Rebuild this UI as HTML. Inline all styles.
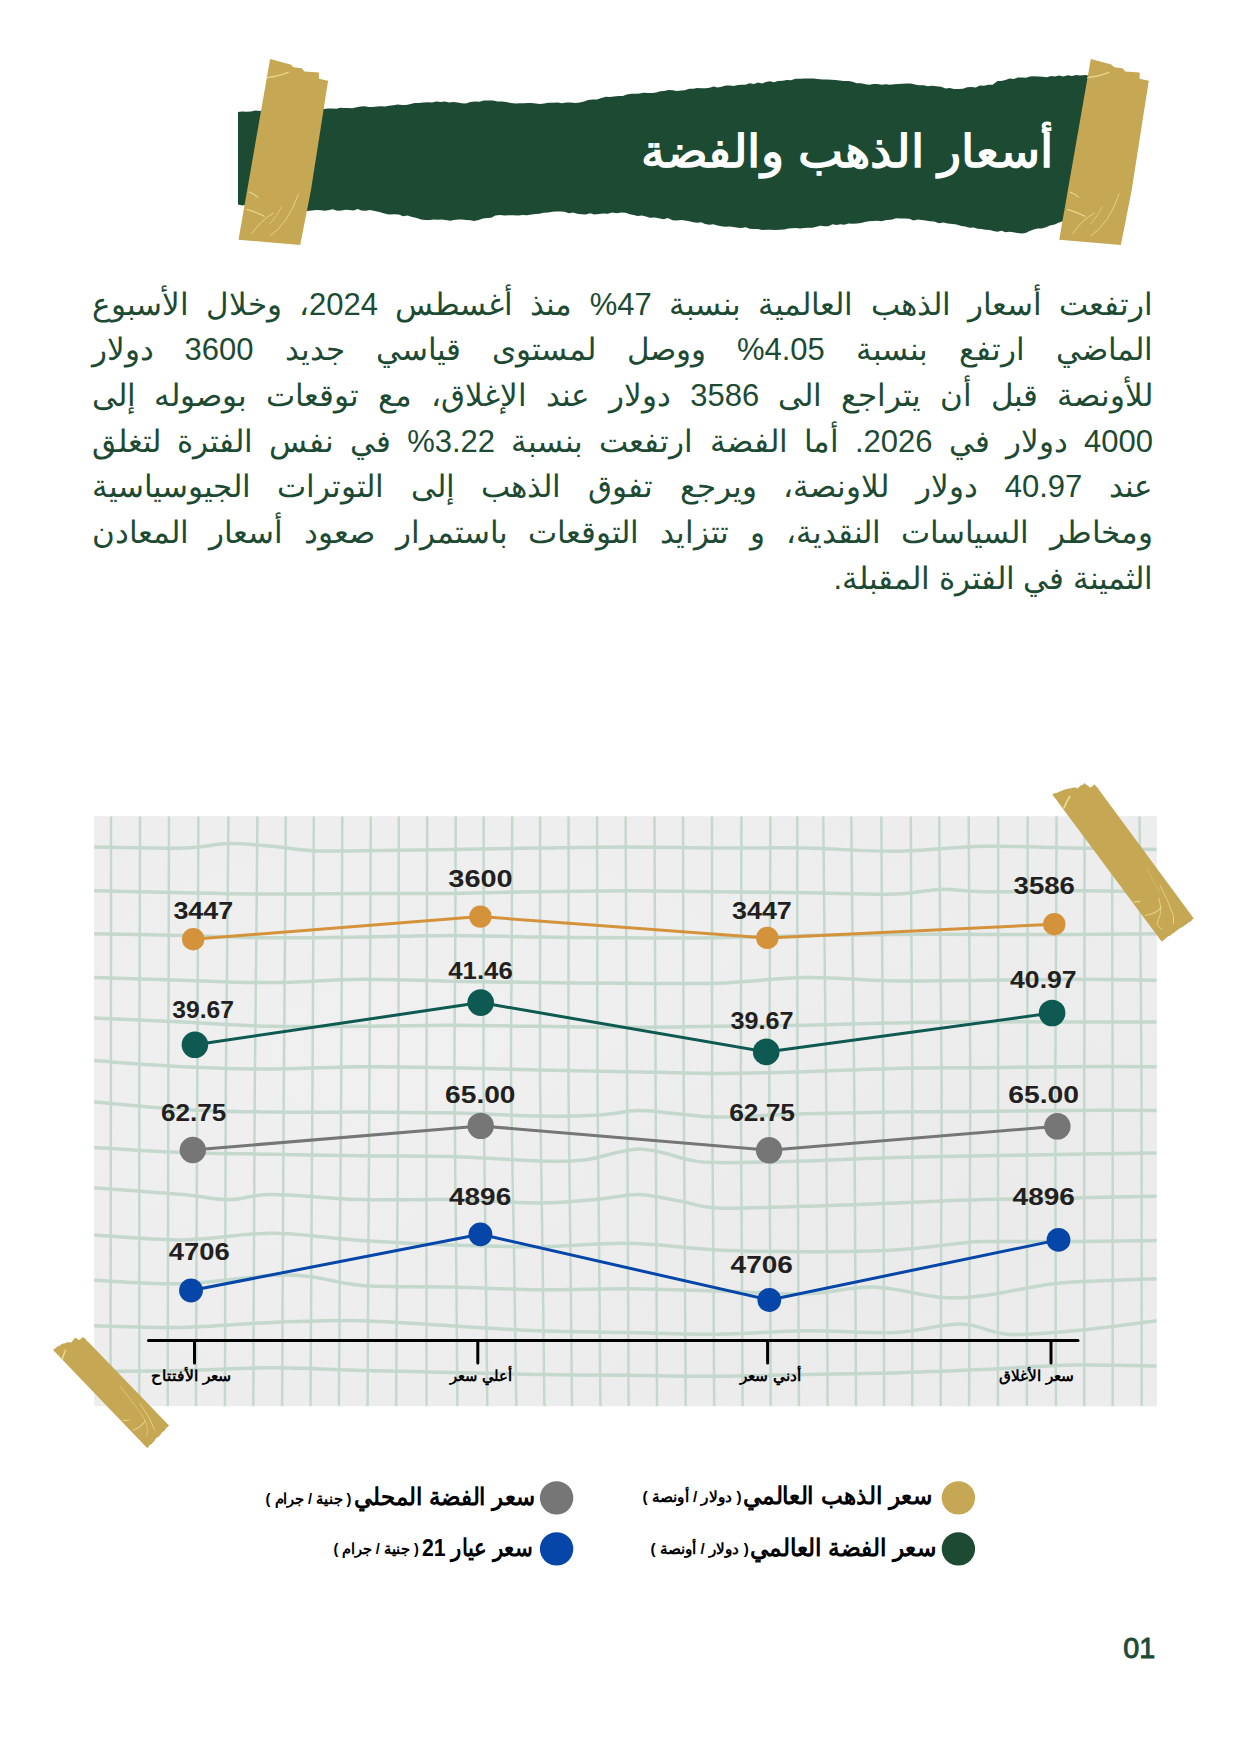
<!DOCTYPE html>
<html lang="ar">
<head>
<meta charset="utf-8">
<title>أسعار الذهب والفضة</title>
<style>
html,body{margin:0;padding:0;background:#fff;}
body{width:1241px;height:1754px;position:relative;overflow:hidden;font-family:"Liberation Sans",sans-serif;color:#1d4a33;}
svg{position:absolute;left:0;top:0;overflow:visible;}
h1{margin:0;font-size:inherit;font-weight:inherit;}
.para{position:absolute;left:91.5px;top:281.6px;width:1061.5px;direction:rtl;margin:0;font-size:31px;line-height:45.7px;color:#1d4a33;}
.para span{display:block;height:45.7px;white-space:nowrap;text-align:justify;text-align-last:justify;}
.para span.last{text-align:right;text-align-last:right;}
</style>
</head>
<body>
<svg width="1241" height="270" viewBox="0 0 1241 270" aria-hidden="true"><path d="M238.0 112.0 L242.2 111.5 L246.5 111.8 L251.1 111.5 L255.6 110.5 L260.0 111.0 L264.0 110.1 L267.7 110.0 L272.2 110.5 L275.8 109.9 L280.3 110.5 L283.9 110.3 L287.7 110.8 L291.9 110.5 L295.8 109.2 L300.2 109.4 L304.1 109.0 L307.9 109.6 L311.7 109.4 L315.8 108.5 L320.0 109.3 L324.0 108.9 L328.1 108.4 L332.0 108.4 L336.3 108.8 L340.3 107.7 L344.6 107.9 L348.2 108.1 L352.2 108.3 L356.7 107.2 L360.6 106.5 L364.7 106.2 L368.7 107.1 L372.6 107.1 L376.9 106.6 L380.8 106.2 L385.2 106.4 L389.0 105.7 L393.4 105.3 L397.7 104.4 L402.2 105.0 L406.0 105.0 L410.6 103.9 L414.7 103.0 L418.8 103.0 L423.5 102.5 L427.5 102.3 L432.2 102.4 L436.2 101.6 L440.8 102.0 L444.8 101.6 L449.3 102.5 L453.2 102.1 L457.7 102.6 L461.7 103.3 L465.9 103.6 L470.5 102.0 L475.1 101.6 L479.4 101.8 L484.0 100.4 L488.6 100.6 L493.0 100.4 L497.6 101.6 L502.1 101.4 L506.2 102.1 L511.2 103.0 L515.7 103.4 L520.0 103.3 L523.9 103.3 L528.1 102.9 L531.7 103.0 L535.8 103.4 L540.0 104.0 L544.1 103.6 L548.6 102.8 L553.2 102.8 L557.9 102.5 L561.9 103.3 L566.4 102.5 L570.7 102.5 L575.7 103.1 L579.8 102.4 L584.1 101.5 L588.2 100.0 L592.7 99.5 L596.9 99.4 L601.5 98.0 L606.0 96.7 L609.7 97.0 L613.9 96.5 L618.8 95.9 L622.8 95.9 L626.8 94.4 L631.3 93.7 L635.4 93.7 L639.7 93.4 L643.5 92.7 L648.1 93.1 L652.2 92.9 L656.3 92.5 L660.3 91.2 L664.1 91.0 L668.4 90.1 L672.8 90.2 L676.8 90.9 L681.3 90.5 L685.0 90.2 L689.1 88.7 L693.4 88.8 L697.2 88.0 L701.7 88.3 L705.5 88.3 L709.7 87.7 L713.6 86.4 L717.7 87.4 L721.6 86.8 L725.8 85.6 L729.8 85.5 L733.6 86.1 L738.0 84.9 L741.7 84.7 L745.5 84.7 L749.5 83.3 L754.0 84.1 L758.0 82.5 L762.0 83.5 L765.9 82.1 L769.6 81.3 L774.1 82.3 L778.0 81.1 L782.7 80.7 L787.0 80.0 L791.0 80.2 L795.5 78.8 L800.0 78.7 L804.5 78.4 L808.8 78.6 L813.6 78.6 L817.8 79.1 L822.5 79.6 L827.0 79.5 L831.2 79.8 L835.6 79.9 L839.5 80.5 L843.8 81.0 L848.5 80.9 L852.5 81.8 L856.8 83.3 L861.0 83.2 L865.4 84.2 L869.4 84.7 L873.5 83.9 L877.5 84.1 L881.7 84.8 L886.0 84.3 L889.9 84.8 L894.1 84.2 L898.3 83.9 L902.3 83.7 L906.7 83.6 L910.5 83.5 L915.1 84.4 L919.0 85.3 L923.8 85.3 L927.7 86.3 L932.2 85.7 L936.4 86.2 L941.1 86.7 L945.6 88.4 L949.8 88.0 L954.0 89.1 L958.1 88.9 L962.9 88.7 L967.2 87.2 L971.2 87.0 L975.7 87.4 L979.8 85.6 L984.0 85.7 L988.3 84.7 L992.7 84.7 L997.5 81.1 L1001.2 80.9 L1005.5 80.0 L1009.5 78.5 L1013.6 78.9 L1018.0 77.4 L1021.7 77.5 L1026.2 77.8 L1029.9 76.6 L1034.4 76.3 L1038.1 76.6 L1042.8 76.7 L1046.5 77.2 L1051.1 75.9 L1055.1 76.5 L1058.9 75.6 L1063.3 76.4 L1067.8 75.2 L1071.9 76.0 L1076.1 75.0 L1080.0 75.5 L1085.2 75.1 L1090.0 76.0 L1066.0 222.0 L1062.8 221.3 L1058.5 222.7 L1054.7 224.4 L1049.9 225.4 L1045.9 227.3 L1041.7 228.4 L1037.6 228.6 L1033.6 229.5 L1029.6 231.0 L1025.6 232.9 L1021.7 233.4 L1017.4 233.0 L1013.3 232.3 L1009.3 231.7 L1005.6 232.2 L1001.6 230.8 L997.3 231.7 L993.5 231.1 L989.8 230.1 L985.5 229.7 L981.5 228.9 L977.8 228.8 L973.6 227.6 L969.5 227.7 L965.2 226.5 L961.3 226.1 L956.5 224.6 L952.5 224.0 L947.6 223.6 L943.6 222.6 L939.0 223.3 L934.2 221.6 L929.9 221.3 L925.7 220.5 L921.6 219.9 L917.8 219.6 L913.4 220.5 L909.5 218.8 L904.9 218.5 L900.9 218.4 L896.0 218.2 L891.2 219.8 L886.4 220.0 L881.5 221.3 L877.2 220.7 L873.2 221.1 L868.8 221.3 L864.9 222.1 L861.0 222.9 L857.0 223.5 L853.0 223.7 L848.5 223.4 L844.3 224.8 L840.4 224.2 L836.5 225.0 L832.6 224.2 L828.4 226.2 L824.4 226.3 L820.2 225.7 L816.4 226.7 L812.3 227.7 L808.3 227.7 L804.0 228.0 L800.1 228.6 L795.7 228.1 L791.9 228.2 L788.2 228.4 L784.1 229.5 L780.0 229.7 L775.4 229.9 L770.2 229.7 L765.9 229.7 L762.0 229.9 L757.9 229.0 L753.5 229.0 L749.6 228.8 L745.6 227.2 L741.5 228.1 L738.0 227.7 L733.5 227.0 L729.7 226.6 L725.7 226.8 L721.2 226.2 L717.5 225.6 L713.3 224.3 L709.3 224.8 L705.1 223.9 L701.2 222.3 L697.5 222.8 L693.2 222.2 L689.3 221.3 L685.0 220.6 L681.3 220.0 L676.6 220.4 L672.6 220.2 L667.8 218.1 L663.7 219.3 L658.7 218.3 L654.7 217.5 L649.9 217.7 L645.9 216.4 L641.9 215.4 L637.5 216.1 L633.8 215.0 L629.9 214.3 L625.7 212.8 L621.5 212.6 L616.4 213.3 L612.2 212.6 L607.6 213.7 L603.2 213.4 L599.0 213.9 L594.3 214.5 L590.2 213.2 L585.6 214.4 L581.7 214.2 L577.2 213.8 L573.0 212.5 L568.9 213.2 L564.6 211.7 L560.4 211.6 L555.9 211.6 L552.4 211.7 L548.3 212.5 L543.7 212.8 L539.5 213.7 L535.9 213.9 L531.4 214.5 L527.1 215.3 L522.7 214.9 L518.0 215.5 L513.1 215.2 L508.9 215.3 L504.6 215.4 L500.0 215.0 L495.4 215.6 L491.2 217.8 L487.0 217.9 L483.1 218.6 L478.6 220.0 L474.3 220.9 L470.3 220.3 L466.3 220.1 L462.0 219.4 L458.5 219.5 L453.9 220.0 L450.4 220.7 L445.7 219.9 L441.5 219.4 L437.5 219.7 L433.5 219.5 L429.9 220.1 L425.5 220.0 L421.0 219.5 L416.7 218.0 L412.1 217.0 L407.6 215.5 L403.1 216.3 L398.9 214.5 L394.2 214.2 L389.0 214.5 L384.4 213.5 L379.4 211.9 L374.7 210.9 L369.9 209.9 L366.1 210.7 L361.4 210.6 L357.8 209.1 L353.5 210.6 L349.1 210.1 L345.7 209.7 L341.5 210.5 L337.0 210.8 L332.8 209.2 L329.1 209.9 L325.0 210.7 L321.0 210.2 L316.7 209.9 L311.9 210.4 L307.0 211.0 L302.9 209.7 L298.8 209.6 L294.0 209.9 L289.7 208.5 L285.8 209.0 L281.1 207.6 L277.2 207.9 L272.6 207.2 L268.2 207.1 L264.2 206.1 L260.0 206.0 L255.7 206.5 L251.2 206.1 L246.6 204.6 L242.5 205.5 L238.0 204.4 Z" fill="#1d4a33"/><polygon points="270.1,59.0 290.6,64.5 293.5,67.2 301.7,68.2 304.6,71.5 318.9,72.4 318.9,78.8 328.1,80.8 311.0,190.0 300.2,244.9 238.5,239.8" fill="#c6a754"/><path d="M266.9 77.6 Q279.0 76.3 288.2 72.4" stroke="#f0e29a" stroke-width="1.3" fill="none" opacity=".8" stroke-linecap="round"/><path d="M249.2 192.1 Q254.0 194.0 257.9 197.3" stroke="#f0e29a" stroke-width="1.1" fill="none" opacity=".8" stroke-linecap="round"/><path d="M246.8 209.3 Q256.0 212.0 264.2 216.3" stroke="#f0e29a" stroke-width="1.2" fill="none" opacity=".8" stroke-linecap="round"/><path d="M252.1 233.5 Q261.0 220.0 273.4 213.2" stroke="#f0e29a" stroke-width="0.9" fill="none" opacity=".8" stroke-linecap="round"/><path d="M270.0 223.8 Q277.0 216.0 281.6 206.9" stroke="#f0e29a" stroke-width="0.7" fill="none" opacity=".8" stroke-linecap="round"/><path d="M270.5 235.5 Q288.0 224.0 298.5 193.9" stroke="#f0e29a" stroke-width="0.9" fill="none" opacity=".8" stroke-linecap="round"/><polygon points="1090.8,59.0 1111.3,64.5 1114.2,67.2 1122.4,68.2 1125.3,71.5 1139.6,72.4 1139.6,78.8 1148.8,80.8 1131.7,190.0 1120.9,244.9 1059.2,239.8" fill="#c6a754"/><path d="M1087.6 77.6 Q1099.7 76.3 1108.9 72.4" stroke="#f0e29a" stroke-width="1.3" fill="none" opacity=".8" stroke-linecap="round"/><path d="M1069.9 192.1 Q1074.7 194.0 1078.6 197.3" stroke="#f0e29a" stroke-width="1.1" fill="none" opacity=".8" stroke-linecap="round"/><path d="M1067.5 209.3 Q1076.7 212.0 1084.9 216.3" stroke="#f0e29a" stroke-width="1.2" fill="none" opacity=".8" stroke-linecap="round"/><path d="M1072.8 233.5 Q1081.7 220.0 1094.1 213.2" stroke="#f0e29a" stroke-width="0.9" fill="none" opacity=".8" stroke-linecap="round"/><path d="M1090.7 223.8 Q1097.7 216.0 1102.3 206.9" stroke="#f0e29a" stroke-width="0.7" fill="none" opacity=".8" stroke-linecap="round"/><path d="M1091.2 235.5 Q1108.7 224.0 1119.2 193.9" stroke="#f0e29a" stroke-width="0.9" fill="none" opacity=".8" stroke-linecap="round"/></svg>
<h1><svg width="1241" height="270" viewBox="0 0 1241 270"><text x="1054" y="166.9" direction="rtl" font-family="'Liberation Sans',sans-serif" font-weight="bold" font-size="45" fill="#fff" textLength="413" lengthAdjust="spacingAndGlyphs">أسعار الذهب والفضة</text></svg></h1>
<p class="para"><span>ارتفعت أسعار الذهب العالمية بنسبة 47% منذ أغسطس 2024، وخلال الأسبوع</span><span>الماضي ارتفع بنسبة 4.05% ووصل لمستوى قياسي جديد 3600 دولار</span><span>للأونصة قبل أن يتراجع الى 3586 دولار عند الإغلاق، مع توقعات بوصوله إلى</span><span>4000 دولار في 2026. أما الفضة ارتفعت بنسبة 3.22% في نفس الفترة لتغلق</span><span>عند 40.97 دولار للاونصة، ويرجع تفوق الذهب إلى التوترات الجيوسياسية</span><span>ومخاطر السياسات النقدية، و تتزايد التوقعات باستمرار صعود أسعار المعادن</span><span class="last">الثمينة في الفترة المقبلة.</span></p>
<svg width="1241" height="1754" viewBox="0 0 1241 1754"><defs><radialGradient id="pg1" cx="30%" cy="40%" r="60%"><stop offset="0" stop-color="#f2f2f2" stop-opacity=".55"/><stop offset="1" stop-color="#f3f3f3" stop-opacity="0"/></radialGradient><radialGradient id="pg2" cx="75%" cy="70%" r="50%"><stop offset="0" stop-color="#e8e8e8" stop-opacity=".45"/><stop offset="1" stop-color="#e6e6e6" stop-opacity="0"/></radialGradient></defs><rect x="94.2" y="816.2" width="1062.6" height="590.1" fill="#ededed"/><rect x="94.2" y="816.2" width="1062.6" height="590.1" fill="url(#pg1)"/><rect x="94.2" y="816.2" width="1062.6" height="590.1" fill="url(#pg2)"/><clipPath id="pc"><rect x="94.2" y="816.2" width="1062.6" height="590.1"/></clipPath><g clip-path="url(#pc)"><g fill="none" stroke="#c4d8ce" stroke-width="2.5"><path d="M111.0 816.2 C111.0 838.5 111.0 905.2 111.0 950.0 C110.9 994.8 110.9 1035.0 110.9 1085.0 C110.9 1135.0 110.7 1196.5 110.7 1250.0 C110.6 1303.5 110.5 1380.2 110.5 1406.3"/><path d="M140.0 816.2 C139.9 838.5 139.8 905.2 139.7 950.0 C139.6 994.8 139.4 1035.0 139.3 1085.0 C139.2 1135.0 139.3 1196.5 139.3 1250.0 C139.3 1303.5 139.3 1380.2 139.3 1406.3"/><path d="M169.0 816.2 C168.9 838.5 168.8 905.2 168.7 950.0 C168.6 994.8 168.4 1035.0 168.3 1085.0 C168.2 1135.0 168.1 1196.5 168.0 1250.0 C167.9 1303.5 167.7 1380.2 167.7 1406.3"/><path d="M198.4 816.2 C198.3 838.5 198.1 905.2 197.9 950.0 C197.7 994.8 197.5 1035.0 197.3 1085.0 C197.1 1135.0 196.8 1196.5 196.5 1250.0 C196.3 1303.5 196.0 1380.2 195.9 1406.3"/><path d="M228.4 816.2 C228.2 838.5 227.7 905.2 227.2 950.0 C226.8 994.8 226.1 1035.0 225.8 1085.0 C225.5 1135.0 225.5 1196.5 225.3 1250.0 C225.2 1303.5 225.0 1380.2 224.9 1406.3"/><path d="M257.4 816.2 C257.2 838.5 256.7 905.2 256.2 950.0 C255.8 994.8 255.2 1035.0 254.8 1085.0 C254.4 1135.0 254.2 1196.5 254.0 1250.0 C253.7 1303.5 253.4 1380.2 253.3 1406.3"/><path d="M285.8 816.2 C285.7 838.5 285.2 905.2 284.9 950.0 C284.6 994.8 284.1 1035.0 283.8 1085.0 C283.5 1135.0 283.1 1196.5 282.9 1250.0 C282.6 1303.5 282.2 1380.2 282.1 1406.3"/><path d="M313.8 816.2 C313.7 838.5 313.4 905.2 313.2 950.0 C313.0 994.8 312.8 1035.0 312.5 1085.0 C312.2 1135.0 311.7 1196.5 311.4 1250.0 C311.1 1303.5 310.6 1380.2 310.5 1406.3"/><path d="M342.3 816.2 C342.2 838.5 342.0 905.2 341.8 950.0 C341.6 994.8 341.5 1035.0 341.2 1085.0 C340.9 1135.0 340.3 1196.5 339.9 1250.0 C339.6 1303.5 339.1 1380.2 338.9 1406.3"/><path d="M370.8 816.2 C370.7 838.5 370.4 905.2 370.2 950.0 C369.9 994.8 369.7 1035.0 369.4 1085.0 C369.1 1135.0 368.7 1196.5 368.4 1250.0 C368.1 1303.5 367.7 1380.2 367.6 1406.3"/><path d="M398.8 816.2 C398.8 838.5 398.7 905.2 398.6 950.0 C398.6 994.8 398.6 1035.0 398.4 1085.0 C398.2 1135.0 397.5 1196.5 397.1 1250.0 C396.8 1303.5 396.3 1380.2 396.1 1406.3"/><path d="M427.2 816.2 C427.1 838.5 427.0 905.2 426.9 950.0 C426.8 994.8 426.6 1035.0 426.5 1085.0 C426.4 1135.0 426.5 1196.5 426.5 1250.0 C426.5 1303.5 426.5 1380.2 426.5 1406.3"/><path d="M455.7 816.2 C455.6 838.5 455.4 905.2 455.2 950.0 C455.0 994.8 454.3 1035.0 454.5 1085.0 C454.7 1135.0 455.6 1196.5 456.1 1250.0 C456.6 1303.5 457.2 1380.2 457.4 1406.3"/><path d="M483.7 816.2 C483.7 838.5 483.6 905.2 483.6 950.0 C483.6 994.8 483.2 1035.0 483.5 1085.0 C483.8 1135.0 485.0 1196.5 485.6 1250.0 C486.2 1303.5 487.0 1380.2 487.3 1406.3"/><path d="M512.2 816.2 C512.1 838.5 511.9 905.2 511.7 950.0 C511.5 994.8 510.7 1035.0 511.1 1085.0 C511.5 1135.0 513.1 1196.5 514.0 1250.0 C514.8 1303.5 515.9 1380.2 516.3 1406.3"/><path d="M540.1 816.2 C540.1 838.5 540.1 905.2 540.1 950.0 C540.1 994.8 539.7 1035.0 540.1 1085.0 C540.5 1135.0 541.7 1196.5 542.5 1250.0 C543.2 1303.5 544.1 1380.2 544.4 1406.3"/><path d="M568.6 816.2 C568.6 838.5 568.6 905.2 568.6 950.0 C568.5 994.8 568.2 1035.0 568.5 1085.0 C568.8 1135.0 569.8 1196.5 570.4 1250.0 C571.0 1303.5 571.7 1380.2 572.0 1406.3"/><path d="M597.1 816.2 C597.1 838.5 597.2 905.2 597.3 950.0 C597.3 994.8 597.2 1035.0 597.5 1085.0 C597.8 1135.0 598.6 1196.5 599.1 1250.0 C599.6 1303.5 600.2 1380.2 600.4 1406.3"/><path d="M625.6 816.2 C625.7 838.5 626.0 905.2 626.3 950.0 C626.5 994.8 626.8 1035.0 627.1 1085.0 C627.4 1135.0 627.7 1196.5 627.9 1250.0 C628.2 1303.5 628.5 1380.2 628.6 1406.3"/><path d="M654.5 816.2 C654.6 838.5 654.8 905.2 655.0 950.0 C655.2 994.8 655.4 1035.0 655.6 1085.0 C655.8 1135.0 656.1 1196.5 656.4 1250.0 C656.6 1303.5 656.9 1380.2 657.0 1406.3"/><path d="M683.0 816.2 C683.1 838.5 683.2 905.2 683.3 950.0 C683.4 994.8 683.5 1035.0 683.7 1085.0 C683.9 1135.0 684.5 1196.5 684.8 1250.0 C685.1 1303.5 685.6 1380.2 685.7 1406.3"/><path d="M712.0 816.2 C712.0 838.5 712.0 905.2 712.0 950.0 C712.1 994.8 711.9 1035.0 712.1 1085.0 C712.3 1135.0 712.9 1196.5 713.3 1250.0 C713.6 1303.5 714.0 1380.2 714.2 1406.3"/><path d="M741.4 816.2 C741.4 838.5 741.2 905.2 741.1 950.0 C741.0 994.8 740.7 1035.0 740.8 1085.0 C740.9 1135.0 741.5 1196.5 741.8 1250.0 C742.1 1303.5 742.5 1380.2 742.6 1406.3"/><path d="M770.4 816.2 C770.3 838.5 770.1 905.2 769.9 950.0 C769.7 994.8 769.3 1035.0 769.3 1085.0 C769.3 1135.0 769.8 1196.5 770.1 1250.0 C770.3 1303.5 770.6 1380.2 770.7 1406.3"/><path d="M797.3 816.2 C797.3 838.5 797.3 905.2 797.3 950.0 C797.4 994.8 797.3 1035.0 797.4 1085.0 C797.5 1135.0 798.0 1196.5 798.2 1250.0 C798.5 1303.5 798.8 1380.2 798.9 1406.3"/><path d="M823.3 816.2 C823.5 838.5 824.1 905.2 824.6 950.0 C825.0 994.8 825.7 1035.0 826.1 1085.0 C826.5 1135.0 826.7 1196.5 826.9 1250.0 C827.2 1303.5 827.5 1380.2 827.6 1406.3"/><path d="M851.3 816.2 C851.5 838.5 852.1 905.2 852.6 950.0 C853.1 994.8 853.8 1035.0 854.2 1085.0 C854.6 1135.0 854.9 1196.5 855.2 1250.0 C855.5 1303.5 855.9 1380.2 856.0 1406.3"/><path d="M881.3 816.2 C881.4 838.5 881.9 905.2 882.2 950.0 C882.5 994.8 883.0 1035.0 883.3 1085.0 C883.6 1135.0 883.6 1196.5 883.7 1250.0 C883.9 1303.5 884.0 1380.2 884.1 1406.3"/><path d="M910.8 816.2 C910.9 838.5 911.2 905.2 911.5 950.0 C911.7 994.8 912.2 1035.0 912.3 1085.0 C912.4 1135.0 912.3 1196.5 912.3 1250.0 C912.3 1303.5 912.3 1380.2 912.3 1406.3"/><path d="M939.2 816.2 C939.4 838.5 939.9 905.2 940.3 950.0 C940.7 994.8 941.5 1035.0 941.6 1085.0 C941.7 1135.0 941.3 1196.5 941.1 1250.0 C941.0 1303.5 940.8 1380.2 940.7 1406.3"/><path d="M968.7 816.2 C968.8 838.5 969.2 905.2 969.4 950.0 C969.7 994.8 970.3 1035.0 970.3 1085.0 C970.3 1135.0 969.8 1196.5 969.6 1250.0 C969.4 1303.5 969.2 1380.2 969.1 1406.3"/><path d="M998.2 816.2 C998.2 838.5 998.2 905.2 998.2 950.0 C998.1 994.8 998.1 1035.0 998.1 1085.0 C998.1 1135.0 998.0 1196.5 998.0 1250.0 C998.0 1303.5 997.9 1380.2 997.9 1406.3"/><path d="M1027.7 816.2 C1027.7 838.5 1027.6 905.2 1027.5 950.0 C1027.4 994.8 1027.3 1035.0 1027.2 1085.0 C1027.1 1135.0 1027.1 1196.5 1027.0 1250.0 C1027.0 1303.5 1026.9 1380.2 1026.9 1406.3"/><path d="M1056.6 816.2 C1056.5 838.5 1056.2 905.2 1056.0 950.0 C1055.8 994.8 1055.4 1035.0 1055.3 1085.0 C1055.2 1135.0 1055.5 1196.5 1055.6 1250.0 C1055.7 1303.5 1055.9 1380.2 1055.9 1406.3"/><path d="M1084.6 816.2 C1084.6 838.5 1084.5 905.2 1084.5 950.0 C1084.4 994.8 1084.3 1035.0 1084.3 1085.0 C1084.3 1135.0 1084.3 1196.5 1084.3 1250.0 C1084.3 1303.5 1084.3 1380.2 1084.3 1406.3"/><path d="M1112.0 816.2 C1112.1 838.5 1112.2 905.2 1112.3 950.0 C1112.4 994.8 1112.6 1035.0 1112.7 1085.0 C1112.8 1135.0 1112.7 1196.5 1112.7 1250.0 C1112.7 1303.5 1112.7 1380.2 1112.7 1406.3"/><path d="M1139.6 816.2 C1139.7 838.5 1140.1 905.2 1140.5 950.0 C1140.8 994.8 1141.3 1035.0 1141.5 1085.0 C1141.7 1135.0 1141.6 1196.5 1141.6 1250.0 C1141.6 1303.5 1141.7 1380.2 1141.7 1406.3"/></g><g fill="none" stroke="#c4d8ce" stroke-width="3.5"><path d="M94.0 847.0 C108.8 847.2 160.6 848.6 183.0 848.0 C205.4 847.4 213.8 843.9 228.6 843.6 C243.4 843.3 258.0 845.1 272.0 846.3 C286.0 847.5 297.8 850.0 312.7 850.7 C327.6 851.4 338.6 850.9 361.5 850.7 C384.4 850.5 420.4 850.1 450.0 849.6 C479.6 849.1 509.3 848.4 539.0 848.0 C568.7 847.6 598.2 847.0 628.0 847.0 C657.8 847.0 687.8 847.8 717.5 848.0 C747.2 848.2 776.4 847.5 806.0 848.0 C835.6 848.5 865.3 851.6 895.0 851.3 C924.7 851.0 954.2 846.8 984.0 846.3 C1013.8 845.8 1044.7 847.5 1073.5 848.0 C1102.3 848.5 1142.9 849.3 1156.8 849.6"/><path d="M94.0 890.7 C108.8 891.0 153.3 892.1 183.0 892.7 C212.7 893.3 242.2 894.0 272.0 894.1 C301.8 894.2 331.8 893.5 361.5 893.4 C391.2 893.3 420.4 893.7 450.0 893.4 C479.6 893.1 509.3 892.2 539.0 891.7 C568.7 891.2 598.2 890.7 628.0 890.7 C657.8 890.7 687.8 891.4 717.5 891.7 C747.2 892.0 776.4 892.3 806.0 892.7 C835.6 893.1 872.6 894.7 895.0 894.1 C917.4 893.5 925.8 889.8 940.6 889.4 C955.4 889.0 961.9 891.5 984.0 891.7 C1006.1 891.9 1044.7 890.7 1073.5 890.7 C1102.3 890.7 1142.9 891.5 1156.8 891.7"/><path d="M94.0 933.8 C108.8 934.1 153.3 934.7 183.0 935.4 C212.7 936.1 242.2 937.5 272.0 937.8 C301.8 938.1 331.8 937.5 361.5 937.1 C391.2 936.7 420.4 935.4 450.0 935.4 C479.6 935.4 509.3 936.7 539.0 937.1 C568.7 937.5 598.2 937.7 628.0 937.8 C657.8 937.9 687.8 938.2 717.5 937.8 C747.2 937.4 776.4 936.0 806.0 935.4 C835.6 934.8 865.3 934.6 895.0 934.4 C924.7 934.2 954.2 934.4 984.0 934.4 C1013.8 934.4 1044.7 934.5 1073.5 934.4 C1102.3 934.3 1142.9 933.9 1156.8 933.8"/><path d="M94.0 977.5 C108.8 978.0 153.3 979.4 183.0 980.2 C212.7 981.1 242.2 982.8 272.0 982.6 C301.8 982.4 331.8 979.4 361.5 979.2 C391.2 979.0 420.4 980.6 450.0 981.2 C479.6 981.8 509.3 982.3 539.0 982.6 C568.7 982.9 598.2 983.1 628.0 983.2 C657.8 983.3 687.8 984.2 717.5 983.2 C747.2 982.2 776.4 977.9 806.0 977.5 C835.6 977.1 865.3 980.4 895.0 980.9 C924.7 981.4 954.2 980.5 984.0 980.2 C1013.8 979.9 1044.7 979.2 1073.5 979.2 C1102.3 979.2 1142.9 980.0 1156.8 980.2"/><path d="M94.0 1017.9 C108.8 1018.6 153.3 1020.5 183.0 1021.9 C212.7 1023.3 242.2 1025.6 272.0 1026.3 C301.8 1027.0 331.8 1026.5 361.5 1026.3 C391.2 1026.1 420.4 1025.3 450.0 1025.3 C479.6 1025.3 509.3 1026.0 539.0 1026.3 C568.7 1026.6 598.2 1027.3 628.0 1027.3 C657.8 1027.3 687.8 1026.6 717.5 1026.3 C747.2 1026.0 776.4 1025.9 806.0 1025.3 C835.6 1024.7 865.3 1023.5 895.0 1022.9 C924.7 1022.3 954.2 1022.1 984.0 1021.9 C1013.8 1021.7 1044.7 1021.9 1073.5 1021.9 C1102.3 1021.9 1142.9 1021.9 1156.8 1021.9"/><path d="M94.0 1060.6 C108.8 1061.6 153.3 1065.3 183.0 1066.7 C212.7 1068.1 242.2 1069.0 272.0 1069.0 C301.8 1069.0 331.8 1066.9 361.5 1066.7 C391.2 1066.5 420.4 1067.2 450.0 1067.7 C479.6 1068.2 509.3 1069.3 539.0 1070.0 C568.7 1070.7 598.2 1071.1 628.0 1071.7 C657.8 1072.3 687.8 1073.4 717.5 1073.4 C747.2 1073.4 776.4 1072.5 806.0 1071.7 C835.6 1070.9 865.3 1069.1 895.0 1068.4 C924.7 1067.7 954.2 1068.0 984.0 1067.7 C1013.8 1067.4 1044.7 1066.9 1073.5 1066.7 C1102.3 1066.5 1142.9 1066.7 1156.8 1066.7"/><path d="M94.0 1102.0 C108.8 1103.2 153.3 1107.7 183.0 1109.4 C212.7 1111.1 242.2 1111.6 272.0 1112.1 C301.8 1112.5 331.8 1112.0 361.5 1112.1 C391.2 1112.2 420.4 1112.1 450.0 1112.8 C479.6 1113.5 514.0 1115.7 539.0 1116.1 C564.0 1116.5 583.5 1115.9 600.0 1115.0 C616.5 1114.1 624.7 1110.8 638.0 1110.6 C651.3 1110.4 666.8 1112.9 680.0 1114.0 C693.2 1115.1 696.5 1117.1 717.5 1117.1 C738.5 1117.1 776.4 1114.6 806.0 1113.8 C835.6 1113.0 865.3 1112.5 895.0 1112.1 C924.7 1111.7 954.2 1111.7 984.0 1111.4 C1013.8 1111.1 1044.7 1110.6 1073.5 1110.4 C1102.3 1110.2 1142.9 1110.4 1156.8 1110.4"/><path d="M94.0 1147.4 C108.8 1148.2 153.3 1151.4 183.0 1152.5 C212.7 1153.6 242.2 1153.7 272.0 1154.2 C301.8 1154.8 331.8 1155.4 361.5 1155.8 C391.2 1156.2 420.4 1155.7 450.0 1156.5 C479.6 1157.3 516.6 1160.3 539.0 1160.9 C561.4 1161.5 571.9 1161.2 584.6 1159.9 C597.3 1158.6 606.0 1154.8 615.0 1153.0 C624.0 1151.2 630.6 1149.2 638.4 1149.1 C646.2 1149.0 653.4 1150.7 662.0 1152.5 C670.6 1154.3 680.8 1158.3 690.0 1160.0 C699.2 1161.7 698.2 1162.4 717.5 1162.6 C736.8 1162.8 776.4 1161.8 806.0 1160.9 C835.6 1160.1 865.3 1158.3 895.0 1157.5 C924.7 1156.7 954.2 1156.3 984.0 1155.8 C1013.8 1155.2 1044.7 1154.7 1073.5 1154.2 C1102.3 1153.8 1142.9 1153.3 1156.8 1153.1"/><path d="M94.0 1187.8 C108.8 1188.9 160.6 1192.5 183.0 1194.5 C205.4 1196.5 213.8 1199.6 228.6 1199.6 C243.4 1199.6 249.8 1194.5 272.0 1194.5 C294.1 1194.5 331.8 1198.8 361.5 1199.6 C391.2 1200.4 420.4 1199.0 450.0 1199.6 C479.6 1200.1 514.0 1203.0 539.0 1202.9 C564.0 1202.8 583.4 1200.4 600.0 1199.0 C616.6 1197.6 625.1 1194.2 638.4 1194.5 C651.7 1194.8 666.8 1198.8 680.0 1201.0 C693.2 1203.2 696.5 1207.1 717.5 1208.0 C738.5 1208.9 776.4 1207.1 806.0 1206.3 C835.6 1205.5 865.3 1204.0 895.0 1202.9 C924.7 1201.8 954.2 1200.4 984.0 1199.6 C1013.8 1198.8 1044.7 1198.5 1073.5 1197.9 C1102.3 1197.3 1142.9 1196.5 1156.8 1196.2"/><path d="M94.0 1234.9 C108.8 1235.8 153.3 1240.3 183.0 1240.0 C212.7 1239.7 242.2 1233.1 272.0 1233.2 C301.8 1233.3 331.8 1238.6 361.5 1240.6 C391.2 1242.6 420.4 1244.0 450.0 1245.0 C479.6 1246.0 509.3 1247.0 539.0 1246.7 C568.7 1246.4 598.2 1242.8 628.0 1243.3 C657.8 1243.8 687.8 1248.6 717.5 1250.0 C747.2 1251.4 776.4 1251.7 806.0 1251.7 C835.6 1251.7 869.2 1251.4 895.0 1250.0 C920.8 1248.6 946.0 1244.7 960.8 1243.3 C975.6 1241.9 965.2 1241.9 984.0 1241.6 C1002.8 1241.3 1044.7 1241.8 1073.5 1241.6 C1102.3 1241.4 1142.9 1240.8 1156.8 1240.6"/><path d="M94.0 1280.3 C108.8 1280.9 153.3 1284.5 183.0 1283.7 C212.7 1282.9 250.4 1276.4 272.0 1275.3 C293.6 1274.2 297.8 1275.3 312.7 1277.0 C327.6 1278.7 338.6 1283.7 361.5 1285.4 C384.4 1287.1 420.4 1286.4 450.0 1287.1 C479.6 1287.8 509.3 1289.5 539.0 1289.8 C568.7 1290.1 598.2 1288.5 628.0 1288.7 C657.8 1288.9 687.8 1290.2 717.5 1291.1 C747.2 1291.9 780.0 1294.5 806.0 1293.8 C832.0 1293.1 850.9 1286.5 873.3 1287.1 C895.7 1287.7 922.1 1295.8 940.6 1297.2 C959.1 1298.6 967.2 1297.5 984.0 1295.5 C1000.8 1293.5 1026.6 1287.7 1041.5 1285.4 C1056.4 1283.2 1054.3 1283.1 1073.5 1282.0 C1092.7 1280.9 1142.9 1279.2 1156.8 1278.7"/><path d="M94.0 1325.8 C108.8 1326.1 153.3 1328.0 183.0 1327.4 C212.7 1326.8 242.2 1323.5 272.0 1322.4 C301.8 1321.3 331.8 1320.1 361.5 1320.7 C391.2 1321.3 420.4 1324.1 450.0 1325.8 C479.6 1327.5 509.3 1329.7 539.0 1330.8 C568.7 1331.9 598.2 1331.9 628.0 1332.5 C657.8 1333.1 687.8 1334.5 717.5 1334.2 C747.2 1333.9 776.4 1331.1 806.0 1330.8 C835.6 1330.5 869.2 1333.6 895.0 1332.5 C920.8 1331.4 942.0 1323.8 960.8 1324.1 C979.6 1324.4 989.1 1333.1 1007.9 1334.2 C1026.7 1335.3 1048.7 1333.0 1073.5 1330.8 C1098.3 1328.5 1142.9 1322.4 1156.8 1320.7"/><path d="M94.0 1371.2 C108.8 1371.1 153.3 1371.1 183.0 1370.5 C212.7 1369.9 242.2 1367.8 272.0 1367.8 C301.8 1367.8 331.8 1369.7 361.5 1370.5 C391.2 1371.3 420.4 1371.7 450.0 1372.4 C479.6 1373.1 509.3 1374.0 539.0 1374.5 C568.7 1375.0 598.2 1374.9 628.0 1375.2 C657.8 1375.5 687.8 1376.3 717.5 1376.2 C747.2 1376.1 776.4 1375.0 806.0 1374.5 C835.6 1374.0 865.3 1373.7 895.0 1372.9 C924.7 1372.1 954.2 1370.8 984.0 1369.5 C1013.8 1368.2 1044.7 1365.7 1073.5 1365.1 C1102.3 1364.5 1142.9 1365.9 1156.8 1366.1"/></g></g>
<g stroke="#000" stroke-width="3" stroke-linecap="round"><line x1="148.5" y1="1340.5" x2="1078" y2="1340.5"/><line x1="194.5" y1="1340.5" x2="194.5" y2="1363"/><line x1="477.8" y1="1340.5" x2="477.8" y2="1363"/><line x1="767.6" y1="1340.5" x2="767.6" y2="1363"/><line x1="1051.0" y1="1340.5" x2="1051.0" y2="1363"/></g>
<g font-family="'Liberation Sans',sans-serif" font-weight="bold" font-size="15" fill="#000" direction="rtl"><text x="231.7" y="1381.4" textLength="80.4" lengthAdjust="spacingAndGlyphs">سعر الأفتتاح</text><text x="512.0" y="1381.4" textLength="62.0" lengthAdjust="spacingAndGlyphs">أعلي سعر</text><text x="801.5" y="1381.4" textLength="61.4" lengthAdjust="spacingAndGlyphs">أدني سعر</text><text x="1074.1" y="1381.4" textLength="75.5" lengthAdjust="spacingAndGlyphs">سعر الأغلاق</text></g>
<polyline points="193.2,939.2 480.4,916.6 767.3,937.9 1054.3,924.2" fill="none" stroke="#d4933b" stroke-width="3" stroke-linejoin="round"/><circle cx="193.2" cy="939.2" r="11.2" fill="#d4933b"/><circle cx="480.4" cy="916.6" r="11.2" fill="#d4933b"/><circle cx="767.3" cy="937.9" r="11.2" fill="#d4933b"/><circle cx="1054.3" cy="924.2" r="11.2" fill="#d4933b"/>
<polyline points="194.9,1044.8 480.7,1002.6 766.2,1051.9 1052.1,1013.0" fill="none" stroke="#0e5a52" stroke-width="3" stroke-linejoin="round"/><circle cx="194.9" cy="1044.8" r="13.3" fill="#0e5a52"/><circle cx="480.7" cy="1002.6" r="13.3" fill="#0e5a52"/><circle cx="766.2" cy="1051.9" r="13.3" fill="#0e5a52"/><circle cx="1052.1" cy="1013.0" r="13.3" fill="#0e5a52"/>
<polyline points="192.8,1150.0 480.7,1125.9 769.1,1150.3 1057.4,1126.3" fill="none" stroke="#767676" stroke-width="3" stroke-linejoin="round"/><circle cx="192.8" cy="1150.0" r="13.2" fill="#767676"/><circle cx="480.7" cy="1125.9" r="13.2" fill="#767676"/><circle cx="769.1" cy="1150.3" r="13.2" fill="#767676"/><circle cx="1057.4" cy="1126.3" r="13.2" fill="#767676"/>
<polyline points="191.0,1290.5 480.4,1234.3 769.3,1300.0 1058.5,1239.9" fill="none" stroke="#0546a8" stroke-width="3" stroke-linejoin="round"/><circle cx="191.0" cy="1290.5" r="11.9" fill="#0546a8"/><circle cx="480.4" cy="1234.3" r="11.9" fill="#0546a8"/><circle cx="769.3" cy="1300.0" r="11.9" fill="#0546a8"/><circle cx="1058.5" cy="1239.9" r="11.9" fill="#0546a8"/>
<g font-family="'Liberation Sans',sans-serif" font-weight="bold" font-size="24" fill="#231f20"><text x="173.4" y="919.0" textLength="59.8" lengthAdjust="spacingAndGlyphs">3447</text><text x="448.3" y="887.2" textLength="64.4" lengthAdjust="spacingAndGlyphs">3600</text><text x="732.0" y="919.0" textLength="59.8" lengthAdjust="spacingAndGlyphs">3447</text><text x="1013.6" y="893.6" textLength="61.3" lengthAdjust="spacingAndGlyphs">3586</text><text x="172.3" y="1018.0" textLength="61.6" lengthAdjust="spacingAndGlyphs">39.67</text><text x="448.3" y="979.1" textLength="64.4" lengthAdjust="spacingAndGlyphs">41.46</text><text x="730.6" y="1029.3" textLength="63.0" lengthAdjust="spacingAndGlyphs">39.67</text><text x="1010.1" y="987.9" textLength="66.5" lengthAdjust="spacingAndGlyphs">40.97</text><text x="161.0" y="1121.2" textLength="65.2" lengthAdjust="spacingAndGlyphs">62.75</text><text x="445.1" y="1102.8" textLength="70.4" lengthAdjust="spacingAndGlyphs">65.00</text><text x="729.2" y="1121.2" textLength="65.8" lengthAdjust="spacingAndGlyphs">62.75</text><text x="1008.3" y="1102.8" textLength="70.8" lengthAdjust="spacingAndGlyphs">65.00</text><text x="168.8" y="1260.1" textLength="60.9" lengthAdjust="spacingAndGlyphs">4706</text><text x="449.0" y="1204.6" textLength="62.2" lengthAdjust="spacingAndGlyphs">4896</text><text x="730.6" y="1273.2" textLength="62.3" lengthAdjust="spacingAndGlyphs">4706</text><text x="1012.6" y="1204.6" textLength="62.3" lengthAdjust="spacingAndGlyphs">4896</text></g>
<polygon points="1052.2,794.3 1053.9,793.6 1055.6,793.1 1057.4,792.8 1059.0,791.8 1060.7,791.2 1062.4,790.6 1064.0,789.7 1065.8,789.3 1067.7,788.8 1069.7,788.5 1071.6,788.1 1073.5,787.4 1075.5,787.6 1077.4,788.5 1079.1,787.0 1080.7,785.5 1082.9,784.7 1084.5,783.1 1086.1,784.7 1088.2,785.8 1089.6,787.6 1091.5,786.9 1093.1,785.7 1094.5,784.3 1095.7,785.8 1097.1,787.2 1193.8,918.6 1192.3,919.5 1191.2,920.9 1189.9,922.0 1188.2,922.6 1187.0,923.9 1185.6,924.8 1184.1,925.8 1182.8,926.9 1181.2,927.6 1179.8,928.6 1178.2,929.3 1177.0,930.6 1175.5,931.5 1174.2,932.6 1172.7,933.5 1171.4,934.6 1170.1,935.8 1168.3,936.2 1166.9,937.2 1165.6,938.4 1164.3,939.4 1163.1,940.7 1161.6,941.6" fill="#c6a754"/><polygon points="53.1,1350.1 54.6,1348.7 56.3,1347.6 57.9,1346.3 59.9,1345.6 61.4,1344.2 63.3,1343.5 65.4,1343.2 67.2,1342.3 69.2,1342.3 71.1,1342.4 73.0,1340.5 74.3,1338.2 76.9,1338.2 78.5,1340.2 80.8,1338.9 82.7,1337.1 84.5,1338.1 85.9,1339.6 87.1,1341.3 88.8,1342.4 169.0,1425.6 167.8,1426.9 166.3,1427.8 165.4,1429.4 164.4,1430.8 162.8,1431.7 161.5,1432.9 160.6,1434.4 159.5,1435.8 158.2,1436.9 156.5,1437.7 155.5,1439.1 154.6,1440.7 153.3,1441.9 152.2,1443.2 151.0,1444.5 149.3,1445.2 148.5,1446.9 147.1,1447.9" fill="#c6a754"/><path d="M1063.9 807.9 Q1066.5 802 1069.7 796.3" stroke="#f0e29a" stroke-width="1.5" fill="none" opacity="0.95" stroke-linecap="round"/><path d="M1134.2 901.9 L1140 901.3" stroke="#f0e29a" stroke-width="1.2" fill="none" opacity="0.80" stroke-linecap="round"/><path d="M1145.1 915.5 Q1156.8 913.5 1161.3 907.1" stroke="#f0e29a" stroke-width="1.1" fill="none" opacity="0.70" stroke-linecap="round"/><path d="M1158.7 898.1 Q1162.5 910.9 1158.7 918.7 T1161.9 929" stroke="#f0e29a" stroke-width="0.9" fill="none" opacity="0.75" stroke-linecap="round"/><path d="M1160 885.2 Q1167.7 899.3 1173.5 916.1 L1173.5 923.8" stroke="#f0e29a" stroke-width="0.9" fill="none" opacity="0.75" stroke-linecap="round"/><path d="M1147 868 Q1152 880 1160 892" stroke="#f0e29a" stroke-width="0.6" fill="none" opacity="0.45" stroke-linecap="round"/><path d="M65.6 1350.1 Q63.5 1355 62.1 1359.8" stroke="#f0e29a" stroke-width="1.3" fill="none" opacity="0.95" stroke-linecap="round"/><path d="M123.2 1420.5 L129 1420.3" stroke="#f0e29a" stroke-width="1.1" fill="none" opacity="0.75" stroke-linecap="round"/><path d="M133.5 1430.1 Q141.9 1426.9 145.1 1421.1" stroke="#f0e29a" stroke-width="1.1" fill="none" opacity="0.70" stroke-linecap="round"/><path d="M120 1386.3 Q132.2 1401.1 141.3 1414 T146.4 1436.6" stroke="#f0e29a" stroke-width="0.8" fill="none" opacity="0.60" stroke-linecap="round"/><path d="M140 1403.7 Q150.3 1417.2 154.8 1430.1" stroke="#f0e29a" stroke-width="0.9" fill="none" opacity="0.75" stroke-linecap="round"/></svg>
<svg width="1241" height="1754" viewBox="0 0 1241 1754"><circle cx="958.4" cy="1497.9" r="16.7" fill="#c6a754"/><text x="932.1" y="1503.6" direction="rtl" font-family="'Liberation Sans',sans-serif" font-weight="bold" font-size="24" fill="#000" textLength="189.3" lengthAdjust="spacingAndGlyphs">سعر الذهب العالمي</text><text x="741.5" y="1502.1" direction="rtl" font-family="'Liberation Sans',sans-serif" font-weight="bold" font-size="15" fill="#000" textLength="98.9" lengthAdjust="spacingAndGlyphs">( دولار / أونصة )</text>
<circle cx="958.4" cy="1548.9" r="16.7" fill="#1d4a33"/><text x="936.4" y="1555.6" direction="rtl" font-family="'Liberation Sans',sans-serif" font-weight="bold" font-size="24" fill="#000" textLength="186.4" lengthAdjust="spacingAndGlyphs">سعر الفضة العالمي</text><text x="748.8" y="1554.1" direction="rtl" font-family="'Liberation Sans',sans-serif" font-weight="bold" font-size="15" fill="#000" textLength="98.3" lengthAdjust="spacingAndGlyphs">( دولار / أونصة )</text>
<circle cx="556.6" cy="1497.9" r="16.7" fill="#767676"/><text x="535.1" y="1505.0" direction="rtl" font-family="'Liberation Sans',sans-serif" font-weight="bold" font-size="24" fill="#000" textLength="181.2" lengthAdjust="spacingAndGlyphs">سعر الفضة المحلي</text><text x="351.5" y="1503.5" direction="rtl" font-family="'Liberation Sans',sans-serif" font-weight="bold" font-size="15" fill="#000" textLength="85.9" lengthAdjust="spacingAndGlyphs">( جنية / جرام )</text>
<circle cx="556.6" cy="1548.9" r="16.7" fill="#0546a8"/><text x="532.7" y="1555.6" direction="rtl" font-family="'Liberation Sans',sans-serif" font-weight="bold" font-size="24" fill="#000" textLength="110.8" lengthAdjust="spacingAndGlyphs">سعر عيار 21</text><text x="418.9" y="1554.1" direction="rtl" font-family="'Liberation Sans',sans-serif" font-weight="bold" font-size="15" fill="#000" textLength="85.3" lengthAdjust="spacingAndGlyphs">( جنية / جرام )</text>
<text x="1123.2" y="1657.6" font-family="'Liberation Sans',sans-serif" font-size="28.6" fill="#1d4a33" stroke="#1d4a33" stroke-width="0.9" textLength="32" lengthAdjust="spacingAndGlyphs">01</text></svg>
</body>
</html>
